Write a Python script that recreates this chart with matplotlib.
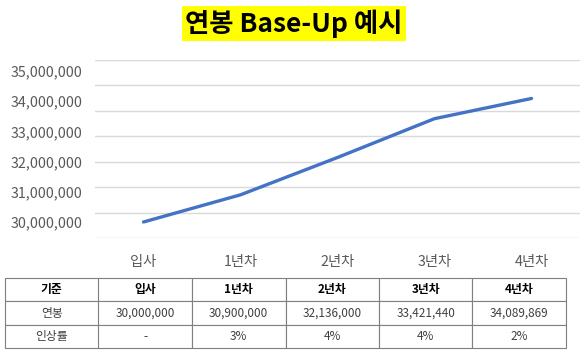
import numpy as np
from matplotlib import pyplot as plt

plt.rcParams['font.family'] = ['Noto Sans CJK KR', 'DejaVu Sans']

categories = ['입사', '1년차', '2년차', '3년차', '4년차']
salary = [30000000, 30900000, 32136000, 33421440, 34089869]
raise_rate = ['-', '3%', '4%', '4%', '2%']
y_ticks = [30000000, 31000000, 32000000, 33000000, 34000000, 35000000]

fig = plt.figure(figsize=(5.8, 3.51), dpi=100)
ax = fig.add_axes([95 / 580, 1 - 238 / 351, 485 / 580, 178 / 351])

x = np.arange(len(categories))
ax.plot(x, salary, color='#4472C4', linewidth=2.4, solid_capstyle='round')

y_lo, y_hi = 29470000, 35364000
ax.set_ylim(y_lo, y_hi)
ax.set_xlim(-0.5, len(categories) - 0.5)

# 눈금선 (라벨과 따로)
ax.set_yticks(np.linspace(y_lo, y_hi, 8), minor=True)
ax.grid(True, which='minor', axis='y', color='#d9d9d9', linewidth=1)
ax.set_yticks(y_ticks)
ax.set_yticklabels(['{:,}'.format(v) for v in y_ticks])
ax.set_xticks(x)
ax.set_xticklabels(categories)
ax.tick_params(axis='y', which='both', length=0, pad=9, labelsize=10.3, labelcolor='#595959')
ax.tick_params(axis='x', length=0, pad=12, labelsize=10.3, labelcolor='#595959')
for s in ax.spines.values():
    s.set_visible(False)

# 제목
fig.text(0.507, 0.932, '연봉 Base-Up 예시', ha='center', va='center', fontsize=19,
         fontweight='bold', bbox=dict(facecolor='#ffff00', edgecolor='none', boxstyle='square,pad=0.12'))

# 표
cell_text = [
    ['기준'] + categories,
    ['연봉'] + ['{:,}'.format(v) for v in salary],
    ['인상률'] + raise_rate,
]
tab = fig.add_axes([0, 0, 1, 1])
tab.axis('off')
table = tab.table(cellText=cell_text, cellLoc='center',
                  bbox=[5 / 580, 1 - 348 / 351, 561 / 580, 70 / 351])
table.auto_set_font_size(False)
for (r, c), cell in table.get_celld().items():
    cell.set_edgecolor('#7f7f7f')
    cell.set_linewidth(0.8)
    cell.get_text().set_fontsize(8.5)
    if r == 0:
        cell.get_text().set_fontweight('bold')
        cell.get_text().set_color('black')
    else:
        cell.get_text().set_color('#404040')

plt.savefig('out.png', dpi=100)
